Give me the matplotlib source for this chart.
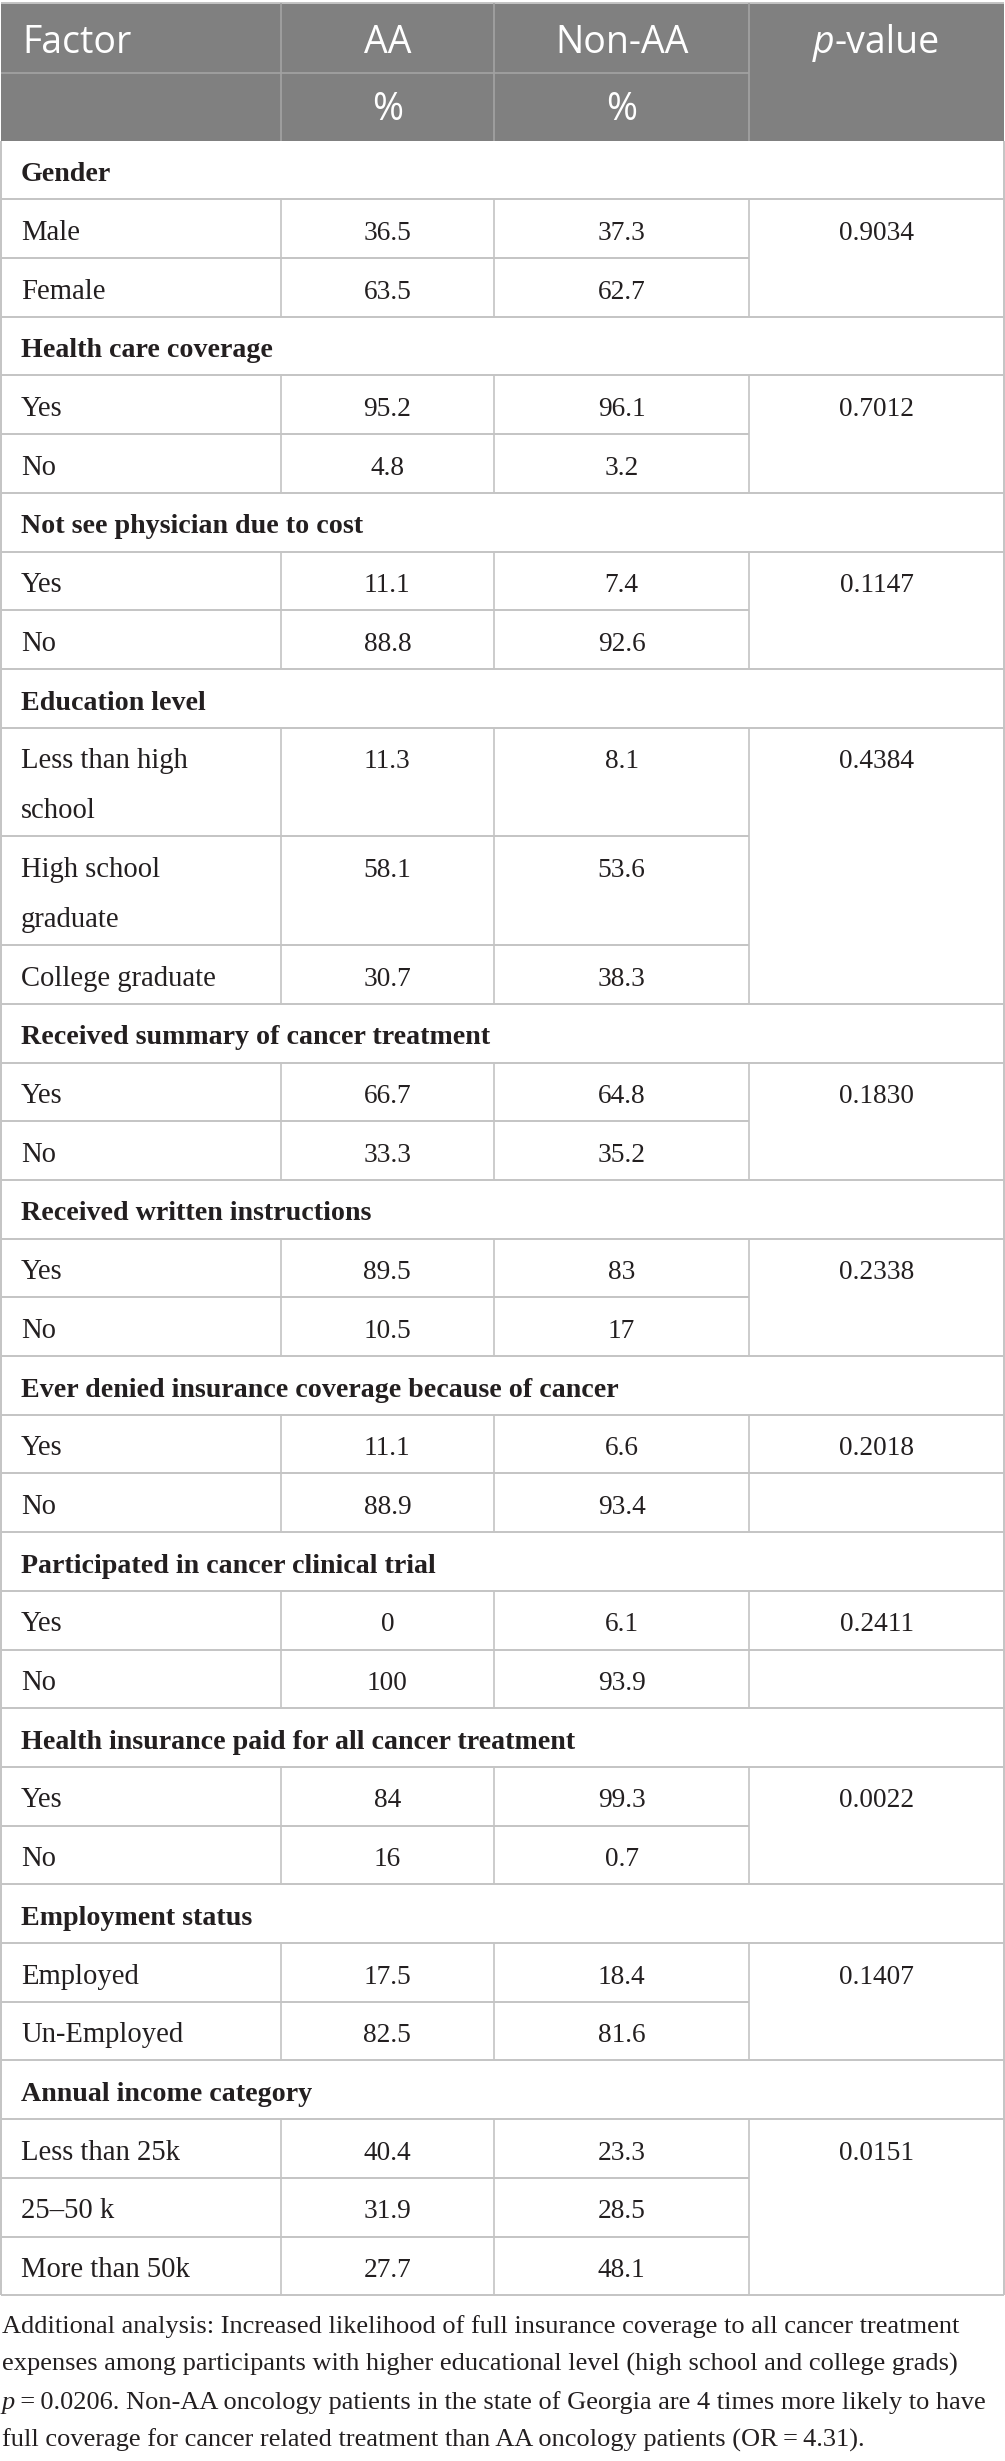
import matplotlib
matplotlib.use("Agg")
import matplotlib.pyplot as plt
from matplotlib.patches import Rectangle

# table content
groups = ["Gender", "Health care coverage", "Not see physician due to cost",
          "Education level", "Received summary of cancer treatment",
          "Received written instructions",
          "Ever denied insurance coverage because of cancer",
          "Participated in cancer clinical trial",
          "Health insurance paid for all cancer treatment",
          "Employment status", "Annual income category"]
levels = [["Male", "Female"], ["Yes", "No"], ["Yes", "No"],
          ["Less than high\nschool", "High school\ngraduate", "College graduate"],
          ["Yes", "No"], ["Yes", "No"], ["Yes", "No"], ["Yes", "No"],
          ["Yes", "No"], ["Employed", "Un-Employed"],
          ["Less than 25k", "25\u201350 k", "More than 50k"]]
aa = [[36.5, 63.5], [95.2, 4.8], [11.1, 88.8], [11.3, 58.1, 30.7],
      [66.7, 33.3], [89.5, 10.5], [11.1, 88.9], [0, 100], [84, 16],
      [17.5, 82.5], [40.4, 31.9, 27.7]]
non_aa = [[37.3, 62.7], [96.1, 3.2], [7.4, 92.6], [8.1, 53.6, 38.3],
          [64.8, 35.2], [83, 17], [6.6, 93.4], [6.1, 93.9], [99.3, 0.7],
          [18.4, 81.6], [23.3, 28.5, 48.1]]
p_values = ["0.9034", "0.7012", "0.1147", "0.4384", "0.1830", "0.2338",
            "0.2018", "0.2411", "0.0022", "0.1407", "0.0151"]
p_merged = [True, True, True, True, True, True, False, False, True, True, True]

caption = ["Additional analysis: Increased likelihood of full insurance coverage to all cancer treatment",
           "expenses among participants with higher educational level (high school and college grads)",
           "\u2009=\u20090.0206. Non-AA oncology patients in the state of Georgia are 4 times more likely to have",
           "full coverage for cancer related treatment than AA oncology patients (OR\u2009=\u20094.31)."]

# layout in pixels
W, H = 1005, 2461
cols = [0.5, 280.7, 494.0, 749.3, 1004.0]
hdr_top, hdr_mid, hdr_bot = 3.0, 72.7, 140.7
row_h = 58.7
line_h = 50.0
base_off = 40.5

hdr_bg = "#808080"
hdr_line = "#a3a3a3"
grid = "#c4c4c4"
ink = "#231f20"
body_font = ["Liberation Serif", "DejaVu Serif"]
head_font = ["Open Sans", "DejaVu Sans"]
fs_body = 20.6
fs_bold = 20.2
fs_num = 19.7
fs_head = 27
fs_cap = 19

fig = plt.figure(figsize=(W / 100, H / 100), dpi=100)
ax = fig.add_axes([0, 0, 1, 1])
ax.set_xlim(0, W)
ax.set_ylim(H, 0)
ax.axis("off")
renderer = fig.canvas.get_renderer()


def text_width(t):
    bb = t.get_window_extent(renderer=renderer)
    return bb.width


# header
ax.add_patch(Rectangle((cols[0], hdr_top), cols[4] - cols[0], hdr_bot - hdr_top,
                       facecolor=hdr_bg, edgecolor="none"))
ax.hlines(hdr_top, cols[0], cols[4], color=grid, lw=1.4)
ax.hlines(hdr_mid, cols[0], cols[3], color=hdr_line, lw=1.2)
ax.vlines(cols[1:4], hdr_top, hdr_bot, color=hdr_line, lw=1.2)
hb1 = 53
hb2 = 120
ax.text(22, hb1, "Factor", family=head_font, fontsize=fs_head, color="white", va="baseline")
ax.text((cols[1] + cols[2]) / 2, hb1, "AA", family=head_font, fontsize=fs_head,
        color="white", ha="center", va="baseline")
ax.text((cols[2] + cols[3]) / 2, hb1, "Non-AA", family=head_font, fontsize=fs_head,
        color="white", ha="center", va="baseline")
ax.text((cols[1] + cols[2]) / 2, hb2, "%", family=head_font, fontsize=fs_head,
        color="white", ha="center", va="baseline")
ax.text((cols[2] + cols[3]) / 2, hb2, "%", family=head_font, fontsize=fs_head,
        color="white", ha="center", va="baseline")
# p-value: italic p + plain "-value", centred together
tp = ax.text(0, hb1, "p", family=head_font, fontsize=fs_head, style="italic",
             color="white", va="baseline")
tv = ax.text(0, hb1, "-value", family=head_font, fontsize=fs_head, color="white",
             va="baseline")
wp, wv = text_width(tp), text_width(tv)
x0 = (cols[3] + cols[4]) / 2 - (wp + wv) / 2
tp.set_x(x0)
tv.set_x(x0 + wp)

# body
y = hdr_bot
for g, name in enumerate(groups):
    # group title row
    ax.text(21, y + base_off, name, family=body_font, fontsize=fs_bold,
            fontweight="bold", color=ink, va="baseline")
    y += row_h
    ax.hlines(y, cols[0], cols[4], color=grid, lw=1.4)
    g_top = y
    n = len(levels[g])
    for i in range(n):
        parts = levels[g][i].split("\n")
        h = row_h + (len(parts) - 1) * line_h
        for k, part in enumerate(parts):
            ax.text(21, y + base_off + k * line_h, part, family=body_font,
                    fontsize=fs_body, color=ink, va="baseline")
        ax.text((cols[1] + cols[2]) / 2, y + base_off, f"{aa[g][i]:g}",
                family=body_font, fontsize=fs_num, color=ink, ha="center", va="baseline")
        ax.text((cols[2] + cols[3]) / 2, y + base_off, f"{non_aa[g][i]:g}",
                family=body_font, fontsize=fs_num, color=ink, ha="center", va="baseline")
        if i == 0:
            ax.text((cols[3] + cols[4]) / 2, y + base_off, p_values[g],
                    family=body_font, fontsize=fs_num, color=ink, ha="center", va="baseline")
        y += h
        last = i == n - 1
        right = cols[4] if (last or not p_merged[g]) else cols[3]
        ax.hlines(y, cols[0], right, color=grid, lw=1.4)
    ax.vlines(cols[1:4], g_top, y, color=grid, lw=1.2)

# outer borders
ax.vlines([cols[0], cols[4]], hdr_bot, y, color=grid, lw=1.4)

# caption
cy = 2333
for k, line in enumerate(caption):
    if k == 2:
        tp = ax.text(2, cy, "p", family=body_font, fontsize=fs_cap, style="italic",
                     color=ink, va="baseline")
        ax.text(2 + text_width(tp), cy, line, family=body_font, fontsize=fs_cap,
                color=ink, va="baseline")
    else:
        ax.text(2, cy, line, family=body_font, fontsize=fs_cap, color=ink, va="baseline")
    cy += 38

fig.savefig("out.png", dpi=100, facecolor="white")
